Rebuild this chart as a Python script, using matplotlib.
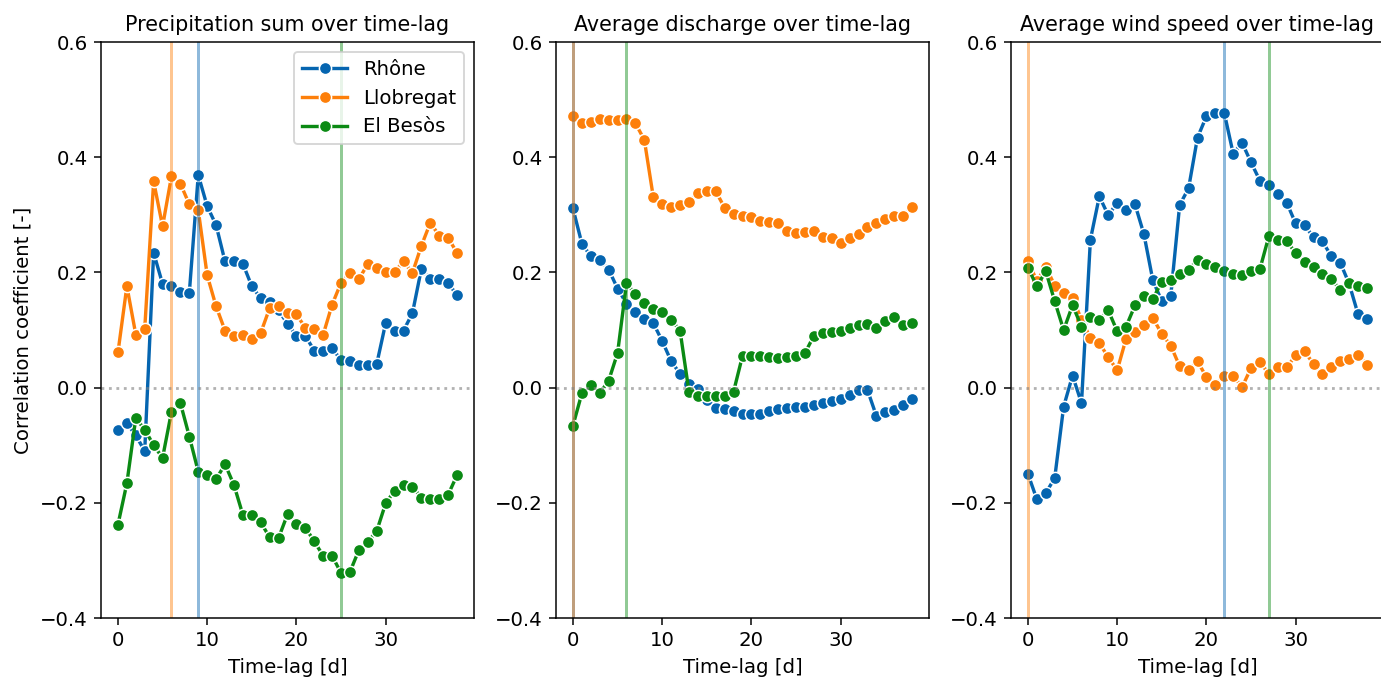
import matplotlib
matplotlib.use("Agg")
import matplotlib.pyplot as plt
import numpy as np

# time-lag in days
lags = np.arange(0, 39)

# --- Precipitation sum ---
prec_rhone = [-0.074, -0.062, -0.083, -0.110, 0.234, 0.180, 0.176, 0.166, 0.165, 0.369,
              0.315, 0.282, 0.219, 0.219, 0.215, 0.176, 0.155, 0.148, 0.134, 0.111,
              0.090, 0.090, 0.064, 0.064, 0.068, 0.048, 0.046, 0.040, 0.040, 0.041,
              0.112, 0.099, 0.099, 0.129, 0.206, 0.188, 0.189, 0.182, 0.160]
prec_llob = [0.061, 0.176, 0.092, 0.102, 0.358, 0.280, 0.367, 0.354, 0.318, 0.308,
             0.195, 0.141, 0.099, 0.089, 0.092, 0.085, 0.095, 0.138, 0.141, 0.130,
             0.127, 0.104, 0.101, 0.092, 0.144, 0.182, 0.199, 0.188, 0.215, 0.208,
             0.201, 0.201, 0.219, 0.199, 0.246, 0.286, 0.264, 0.260, 0.234]
prec_besos = [-0.238, -0.166, -0.053, -0.073, -0.100, -0.122, -0.042, -0.027, -0.085, -0.146,
              -0.152, -0.159, -0.133, -0.169, -0.221, -0.221, -0.234, -0.260, -0.261, -0.220,
              -0.237, -0.243, -0.267, -0.292, -0.292, -0.322, -0.320, -0.282, -0.268, -0.249,
              -0.201, -0.179, -0.169, -0.172, -0.191, -0.194, -0.194, -0.186, -0.152]

# --- Average discharge ---
dis_rhone = [0.311, 0.250, 0.228, 0.222, 0.205, 0.172, 0.146, 0.131, 0.119, 0.112,
             0.081, 0.046, 0.024, 0.007, -0.002, -0.021, -0.036, -0.038, -0.041, -0.045,
             -0.045, -0.045, -0.041, -0.037, -0.035, -0.033, -0.033, -0.031, -0.027, -0.024,
             -0.020, -0.012, -0.005, -0.004, -0.049, -0.043, -0.039, -0.030, -0.020]
dis_llob = [0.471, 0.459, 0.461, 0.466, 0.464, 0.464, 0.466, 0.459, 0.430, 0.331,
            0.318, 0.313, 0.317, 0.323, 0.337, 0.341, 0.341, 0.312, 0.302, 0.298,
            0.297, 0.289, 0.288, 0.286, 0.272, 0.269, 0.270, 0.272, 0.261, 0.260,
            0.251, 0.260, 0.266, 0.279, 0.286, 0.293, 0.298, 0.298, 0.313]
dis_besos = [-0.066, -0.010, 0.005, -0.010, 0.012, 0.060, 0.181, 0.162, 0.147, 0.137,
             0.131, 0.118, 0.099, -0.007, -0.014, -0.015, -0.015, -0.014, -0.007, 0.055,
             0.055, 0.055, 0.053, 0.052, 0.053, 0.055, 0.060, 0.090, 0.094, 0.096,
             0.098, 0.104, 0.108, 0.110, 0.104, 0.115, 0.122, 0.108, 0.112]

# --- Average wind speed ---
wind_rhone = [-0.150, -0.194, -0.183, -0.157, -0.033, 0.021, -0.027, 0.257, 0.332, 0.299,
              0.321, 0.308, 0.318, 0.266, 0.186, 0.150, 0.159, 0.317, 0.346, 0.434,
              0.471, 0.476, 0.477, 0.406, 0.425, 0.391, 0.359, 0.351, 0.336, 0.321,
              0.285, 0.282, 0.261, 0.254, 0.228, 0.217, 0.180, 0.127, 0.119]
wind_llob = [0.220, 0.185, 0.210, 0.177, 0.165, 0.156, 0.118, 0.086, 0.077, 0.053,
             0.030, 0.085, 0.096, 0.109, 0.121, 0.093, 0.073, 0.037, 0.031, 0.046,
             0.018, 0.005, 0.020, 0.020, 0.001, 0.034, 0.044, 0.024, 0.035, 0.035,
             0.056, 0.063, 0.041, 0.024, 0.035, 0.047, 0.049, 0.057, 0.040]
wind_besos = [0.208, 0.176, 0.202, 0.150, 0.100, 0.143, 0.106, 0.122, 0.118, 0.134,
              0.098, 0.106, 0.143, 0.159, 0.154, 0.184, 0.187, 0.197, 0.205, 0.221,
              0.215, 0.209, 0.202, 0.198, 0.195, 0.202, 0.206, 0.263, 0.257, 0.254,
              0.234, 0.218, 0.210, 0.198, 0.189, 0.169, 0.181, 0.176, 0.173]

titles = ["Precipitation sum over time-lag",
          "Average discharge over time-lag",
          "Average wind speed over time-lag"]
rivers = ["Rhône", "Llobregat", "El Besòs"]
colors = ["#0565b0", "#fd7f0a", "#0b8a14"]

# lag of maximum |correlation| per river (vertical lines)
best_lags = [[9, 6, 25], [0, 0, 6], [22, 0, 27]]

panels = [[prec_rhone, prec_llob, prec_besos],
          [dis_rhone, dis_llob, dis_besos],
          [wind_rhone, wind_llob, wind_besos]]

plt.rcParams.update({'xtick.labelsize': 10.5, 'ytick.labelsize': 10.5,
                     'axes.labelsize': 10.5, 'axes.titlesize': 11})

fig = plt.figure(figsize=(1381 / 135, 678 / 135), dpi=135)
lefts = [101 / 1381, 556 / 1381, 1011 / 1381]
axes = [fig.add_axes([l, 60 / 678, 373 / 1381, 576 / 678]) for l in lefts]

for ax, series, title, vl in zip(axes, panels, titles, best_lags):
    for vals, name, c in zip(series, rivers, colors):
        ax.plot(lags, vals, color=c, marker='o', markersize=6.5, markeredgecolor='white',
                markeredgewidth=0.8, linewidth=1.8, label=name)
    for lag, c in zip(vl, colors):
        ax.axvline(lag, color=c, alpha=0.45, linewidth=1.6)
    ax.axhline(0, color='grey', alpha=0.6, linestyle=':', linewidth=1.5)
    ax.set_ylim(-0.4, 0.6)
    ax.set_xlim(-1.9, 39.9)
    ax.set_yticks([-0.4, -0.2, 0.0, 0.2, 0.4, 0.6])
    ax.set_xticks([0, 10, 20, 30])
    ax.set_title(title)
    ax.set_xlabel("Time-lag [d]")

axes[0].set_ylabel("Correlation coefficient [-]")
axes[0].legend(loc='upper right', fontsize=10.5, handlelength=2.3)

fig.savefig("out.png", dpi=135)
